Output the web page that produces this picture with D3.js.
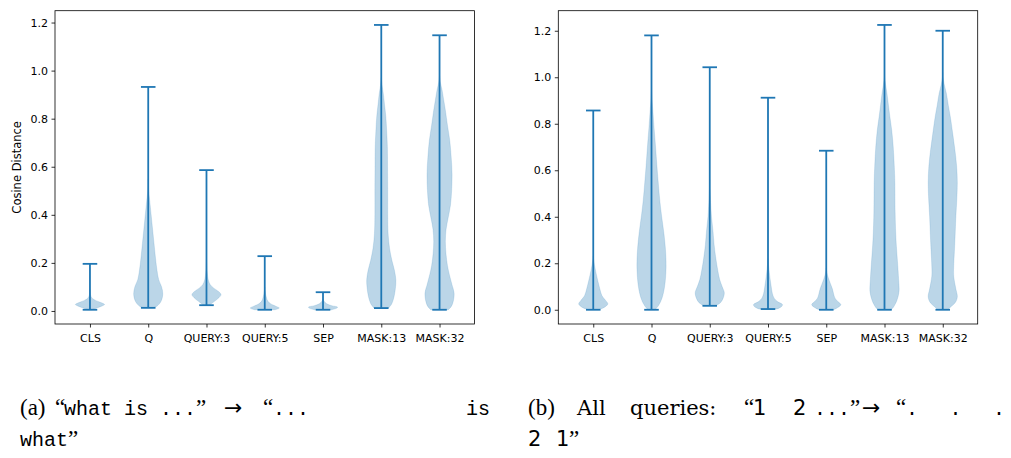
<!DOCTYPE html>
<html lang="en">
<head>
<meta charset="utf-8">
<title>Cosine distance violins</title>
<script src="https://cdn.jsdelivr.net/npm/d3@7"></script>
<style>
  body { margin: 0; background: #fff; }
  .tick text { font-family: "DejaVu Sans", sans-serif; font-size: 11px; fill: #000; }
  .tick line { stroke: #000; stroke-width: 0.8; }
  .frame { fill: none; stroke: #000; stroke-width: 0.8; }
  .body { fill: #1f77b4; fill-opacity: 0.3; stroke: #1f77b4; stroke-opacity: 0.3; stroke-width: 0.5; }
  .bar { stroke: #1f77b4; stroke-width: 1.8; }
  .ylab { font-family: "DejaVu Sans", sans-serif; font-size: 11.5px; }
  .cap { font-size: 23px; fill: #000; }
  .rm { font-family: "Liberation Serif", serif; }
  .rw { font-family: "DejaVu Serif", serif; font-size: 21px; }
  .tt { font-family: "Liberation Mono", monospace; font-size: 20px; }
  .sf { font-family: "DejaVu Sans", sans-serif; font-size: 21px; }
  .ar { font-family: "DejaVu Sans", sans-serif; font-size: 22px; }
</style>
</head>
<body>
<script>
var tokens = ["CLS", "Q", "QUERY:3", "QUERY:5", "SEP", "MASK:13", "MASK:32"];
var yTicks = [0, 0.2, 0.4, 0.6, 0.8, 1.0, 1.2];

// (a) "what is ..." -> "... is what"
var minA = [0.005, 0.013, 0.024, 0.005, 0.005, 0.012, 0.005];
var maxA = [0.196, 0.932, 0.586, 0.228, 0.078, 1.19, 1.147];
// density profile: [value, relative half width]
var densA = [
  [[0.005,0.15],[0.012,0.45],[0.02,0.8],[0.027,1],[0.035,0.75],[0.045,0.35],[0.055,0.12],[0.07,0.03],[0.09,0]],
  [[0.013,0.3],[0.02,0.6],[0.04,0.88],[0.07,1],[0.1,0.92],[0.13,0.72],[0.17,0.6],[0.22,0.5],[0.28,0.4],[0.34,0.3],[0.4,0.2],[0.46,0.1],[0.5,0.03],[0.55,0]],
  [[0.024,0.2],[0.04,0.55],[0.055,0.85],[0.068,1],[0.08,0.85],[0.095,0.5],[0.11,0.25],[0.13,0.12],[0.16,0.05],[0.2,0.01],[0.22,0]],
  [[0.005,0.7],[0.012,1],[0.02,0.75],[0.03,0.4],[0.04,0.22],[0.055,0.12],[0.07,0.06],[0.085,0.02],[0.1,0]],
  [[0.005,0.6],[0.012,0.95],[0.016,1],[0.022,0.6],[0.03,0.25],[0.04,0.08],[0.05,0]],
  [[0.012,0.5],[0.03,0.72],[0.06,0.88],[0.1,0.98],[0.13,1],[0.17,0.9],[0.21,0.73],[0.26,0.57],[0.32,0.47],[0.4,0.44],[0.5,0.44],[0.6,0.43],[0.68,0.42],[0.75,0.37],[0.81,0.31],[0.86,0.22],[0.9,0.15],[0.94,0.05],[0.97,0]],
  [[0.005,0.6],[0.02,0.82],[0.045,0.96],[0.075,1],[0.11,0.85],[0.15,0.68],[0.19,0.54],[0.24,0.44],[0.29,0.4],[0.34,0.45],[0.39,0.6],[0.44,0.75],[0.5,0.83],[0.57,0.86],[0.64,0.8],[0.71,0.7],[0.77,0.55],[0.835,0.4],[0.88,0.28],[0.92,0.17],[0.95,0.06],[0.98,0]]
];

// (b) all queries "1 2 ..." -> "... 2 1"
var minB = [0.0, 0.0, 0.017, 0.003, 0.0, 0.0, 0.0];
var maxB = [0.857, 1.18, 1.043, 0.912, 0.684, 1.225, 1.2];
var densB = [
  [[0,0.35],[0.01,0.75],[0.025,1],[0.04,0.85],[0.06,0.6],[0.09,0.45],[0.12,0.33],[0.15,0.22],[0.18,0.12],[0.21,0.04],[0.23,0]],
  [[0,0.25],[0.02,0.5],[0.05,0.72],[0.1,0.9],[0.18,1],[0.25,0.97],[0.33,0.85],[0.4,0.7],[0.47,0.57],[0.55,0.46],[0.62,0.37],[0.7,0.28],[0.78,0.18],[0.85,0.1],[0.9,0.04],[0.95,0]],
  [[0.017,0.4],[0.03,0.73],[0.05,0.92],[0.073,1],[0.1,0.85],[0.13,0.68],[0.17,0.55],[0.22,0.42],[0.28,0.3],[0.34,0.22],[0.4,0.12],[0.46,0.06],[0.52,0.02],[0.56,0]],
  [[0.003,0.6],[0.012,0.9],[0.022,1],[0.035,0.65],[0.05,0.42],[0.07,0.3],[0.1,0.22],[0.13,0.15],[0.16,0.09],[0.19,0.04],[0.22,0]],
  [[0,0.5],[0.01,0.8],[0.022,1],[0.035,0.8],[0.05,0.6],[0.07,0.5],[0.09,0.42],[0.11,0.3],[0.13,0.18],[0.15,0.08],[0.17,0.02],[0.18,0]],
  [[0,0.45],[0.01,0.6],[0.04,0.85],[0.08,1],[0.13,0.97],[0.2,0.9],[0.27,0.82],[0.33,0.77],[0.42,0.73],[0.55,0.71],[0.62,0.67],[0.7,0.6],[0.77,0.5],[0.83,0.37],[0.88,0.27],[0.93,0.17],[0.97,0.07],[1.0,0.01],[1.02,0]],
  [[0,0.35],[0.01,0.5],[0.03,0.85],[0.055,1],[0.09,0.9],[0.145,0.75],[0.2,0.76],[0.25,0.8],[0.32,0.85],[0.4,0.9],[0.48,0.97],[0.55,1],[0.62,0.95],[0.69,0.83],[0.76,0.68],[0.83,0.52],[0.88,0.38],[0.93,0.25],[0.97,0.1],[1.0,0.02],[1.02,0]]
];

var W = 1011, H = 458;
var svg = d3.select("body").append("svg")
  .attr("width", W)
  .attr("height", H);

function drawPanel(left, right, mins, maxs, dens, ylabel) {
  var top = 10.7, bottom = 324;
  var x = d3.scaleLinear().domain([0.4, 7.6]).range([left, right]);
  var lo = d3.min(mins), hi = d3.max(maxs), pad = (hi - lo) * 0.05;
  var y = d3.scaleLinear().domain([lo - pad, hi + pad]).range([bottom, top]);
  var g = svg.append("g");

  var hw = x(1.25) - x(1);   // violin half width (widths=0.5)
  var cw = x(1.125) - x(1);  // cap half width

  var area = d3.area()
    .curve(d3.curveCatmullRom.alpha(0.5))
    .y(function(d) { return y(d[0]); });

  g.selectAll(".body")
    .data(dens)
    .enter().append("path")
    .attr("class", "body")
    .attr("d", function(d, i) {
      var cx = x(i + 1);
      return area
        .x0(function(p) { return cx - p[1] * hw; })
        .x1(function(p) { return cx + p[1] * hw; })(d);
    });

  // stems + caps
  g.selectAll(".stem")
    .data(tokens)
    .enter().append("line")
    .attr("class", "bar")
    .attr("x1", function(d, i) { return x(i + 1); })
    .attr("x2", function(d, i) { return x(i + 1); })
    .attr("y1", function(d, i) { return y(mins[i]); })
    .attr("y2", function(d, i) { return y(maxs[i]); });

  [mins, maxs].forEach(function(arr) {
    g.selectAll(null)
      .data(arr)
      .enter().append("line")
      .attr("class", "bar")
      .attr("x1", function(d, i) { return x(i + 1) - cw; })
      .attr("x2", function(d, i) { return x(i + 1) + cw; })
      .attr("y1", function(d) { return y(d); })
      .attr("y2", function(d) { return y(d); });
  });

  var xa = g.append("g")
    .attr("transform", "translate(0," + bottom + ")")
    .call(d3.axisBottom(x)
      .tickValues(d3.range(1, tokens.length + 1))
      .tickFormat(function(d) { return tokens[d - 1]; })
      .tickSize(3.5)
      .tickPadding(6.5));
  xa.select(".domain").remove();

  var ya = g.append("g")
    .attr("transform", "translate(" + left + ",0)")
    .call(d3.axisLeft(y)
      .tickValues(yTicks)
      .tickFormat(d3.format(".1f"))
      .tickSize(3.5)
      .tickPadding(3.5));
  ya.select(".domain").remove();

  g.append("rect")
    .attr("class", "frame")
    .attr("x", left)
    .attr("y", top)
    .attr("width", right - left)
    .attr("height", bottom - top);

  if (ylabel) {
    g.append("text")
      .attr("class", "ylab")
      .attr("transform", "translate(" + (left - 34) + "," + ((top + bottom) / 2) + ") rotate(-90)")
      .attr("text-anchor", "middle")
      .text(ylabel);
  }
}

drawPanel(55, 474.5, minA, maxA, densA, "Cosine Distance");
drawPanel(558.3, 977.7, minB, maxB, densB, null);

// captions, piece by piece (the source line is justified)
var captions = [
  ["rm", 20, 415, "(a)"], ["rm", 55, 415, "\u201c"], ["tt", 64, 415, "what is ..."], ["rm", 196, 415, "\u201d"],
  ["ar", 224, 415, "\u2192"], ["rm", 263, 415, "\u201c"], ["tt", 273, 415, "..."], ["tt", 466, 415, "is"],
  ["tt", 20, 446, "what"], ["rm", 68, 446, "\u201d"],
  ["rm", 528, 415, "(b)"], ["rw", 577, 415, "All"], ["rw", 630, 415, "queries:"],
  ["rm", 744, 415, "\u201c"], ["sf", 753, 415, "1"], ["sf", 793, 415, "2"], ["tt", 814, 415, "..."], ["rm", 850, 415, "\u201d"],
  ["ar", 862, 415, "\u2192"], ["rm", 896, 415, "\u201c"],
  ["sf", 528, 446, "2"], ["sf", 556, 446, "1"], ["rm", 569, 446, "\u201d"]
];

var cap = svg.append("g");
cap.selectAll("text")
  .data(captions)
  .enter().append("text")
  .attr("class", function(d) { return "cap " + d[0]; })
  .attr("x", function(d) { return d[1]; })
  .attr("y", function(d) { return d[2]; })
  .attr("xml:space", "preserve")
  .style("white-space", "pre")
  .text(function(d) { return d[3]; });

// trailing dots of (b), stretched to the right margin like the justified line
cap.append("text")
  .attr("class", "cap tt")
  .attr("x", 906)
  .attr("y", 415)
  .attr("textLength", 99)
  .attr("lengthAdjust", "spacing")
  .text("...");
</script>
</body>
</html>
